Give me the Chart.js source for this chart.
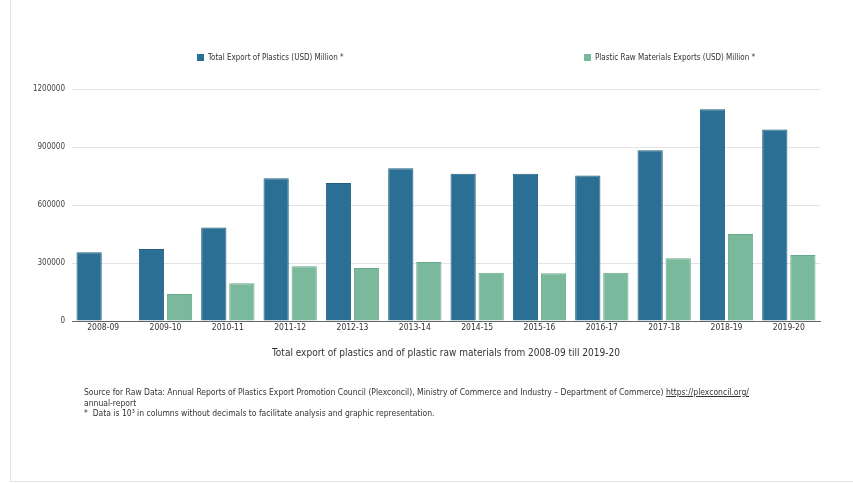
<!DOCTYPE html>
<html>
<head>
<meta charset="utf-8">
<script src="https://cdn.jsdelivr.net/npm/chart.js@4.4.0/dist/chart.umd.min.js"></script>
<style>
  html, body { margin: 0; padding: 0; background: #fff; }
  #wrap { position: relative; width: 853px; height: 483px; overflow: hidden;
          font-family: "Liberation Sans Narrow", "DejaVu Sans Condensed", "Liberation Sans", sans-serif; color: #333; }
  #frame { position: absolute; left: 10px; top: 0; width: 842px; height: 481px;
           border-left: 1px solid #e4e4e4; border-bottom: 1px solid #e4e4e4; }
  canvas { position: absolute; left: 0; top: 0; }
  .leg { position: absolute; top: 52px; font-size: 8px; line-height: 11px; white-space: nowrap; }
  .leg i { display: inline-block; width: 7px; height: 7px; margin-right: 4px; vertical-align: -1px; }
  #notes { position: absolute; left: 84px; top: 387px; font-size: 8.5px; line-height: 10.5px; color: #333; }
  #notes a { color: #333; }
</style>
</head>
<body>
<div id="wrap">
  <div id="frame"></div>
  <canvas id="chart" width="853" height="483"></canvas>
  <div class="leg" id="leg1" style="left:197px"></div>
  <div class="leg" id="leg2" style="left:584px"></div>
  <div id="notes">
    Source for Raw Data: Annual Reports of Plastics Export Promotion Council (Plexconcil), Ministry of Commerce and Industry – Department of Commerce) <a href="#">https://plexconcil.org/</a><br>
    annual-report<br>
    *&nbsp; Data is 10³ in columns without decimals to facilitate analysis and graphic representation.
  </div>
</div>
<script>
  // values (USD million * 10^3)
  const years = ['2008-09', '2009-10', '2010-11', '2011-12', '2012-13', '2013-14',
                 '2014-15', '2015-16', '2016-17', '2017-18', '2018-19', '2019-20'];
  const totalExport = [355000, 372000, 483000, 738000, 714000, 790000,
                       762000, 762000, 752000, 883000, 1095000, 991000];
  const rawMaterials = [null, 140000, 195000, 283000, 274000, 305000,
                        250000, 247000, 250000, 324000, 450000, 341000];
  const yTicks = [0, 300000, 600000, 900000, 1200000];

  const seriesNames = ['Total Export of Plastics (USD) Million *', 'Plastic Raw Materials Exports (USD) Million *'];
  const colors = ['#2b6f94', '#7bb99c'];

  document.getElementById('leg1').innerHTML = '<i style="background:' + colors[0] + '"></i>' + seriesNames[0];
  document.getElementById('leg2').innerHTML = '<i style="background:' + colors[1] + '"></i>' + seriesNames[1];

  const narrow = "'Liberation Sans Narrow', 'DejaVu Sans Condensed', 'Liberation Sans', sans-serif";

  new Chart(document.getElementById('chart'), {
    type: 'bar',
    data: {
      labels: years,
      datasets: [
        { label: seriesNames[0], data: totalExport, backgroundColor: colors[0],
          borderColor: '#22607f', borderWidth: 1 },
        { label: seriesNames[1], data: rawMaterials, backgroundColor: colors[1],
          borderColor: '#6aa88a', borderWidth: 1 }
      ]
    },
    options: {
      responsive: false,
      animation: false,
      layout: { padding: { top: 89, left: 0, right: 33, bottom: 122 } },
      datasets: { bar: { barPercentage: 0.9, categoryPercentage: 0.9 } },
      plugins: { legend: { display: false }, tooltip: { enabled: false } },
      scales: {
        x: {
          grid: { display: false, drawTicks: false },
          border: { color: '#666', width: 1 },
          ticks: { color: '#333', padding: 2, font: { family: narrow, size: 8.5 } },
          title: { display: true, text: 'Total export of plastics and of plastic raw materials from 2008-09 till 2019-20',
                   color: '#333', padding: { top: 0, bottom: 2 }, font: { family: narrow, size: 10 } },
          afterFit: s => { s.height = 40; }
        },
        y: {
          min: 0, max: 1200000,
          afterBuildTicks: s => { s.ticks = yTicks.map(v => ({ value: v })); },
          grid: { color: '#e3e3e3', drawTicks: false },
          border: { display: false },
          ticks: { color: '#444', padding: 7, font: { family: narrow, size: 8 },
                   callback: v => String(v) },
          afterFit: s => { s.width = 72; }
        }
      }
    }
  });
</script>
</body>
</html>
